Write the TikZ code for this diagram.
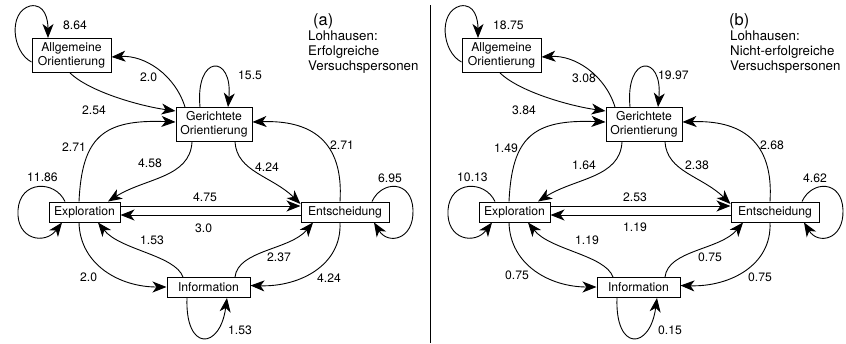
\documentclass[tikz,border=0pt]{standalone}
\usepackage{fontspec}
\setmainfont{TeX Gyre Heros}
\usetikzlibrary{arrows.meta}
\begin{document}
\begin{tikzpicture}[x=1pt,y=-1pt,
  every node/.style={font=\fontsize{12.2}{14}\selectfont, inner sep=0pt},
  stbox/.style={draw, line width=1pt, align=center, fill=white},
  twobox/.style={stbox, minimum height=34pt},
  onebox/.style={stbox, minimum height=20pt},
  conn/.style={line width=0.9pt, -{Stealth[length=14pt,width=11pt,inset=4pt]}},
  wt/.style={anchor=west},
  capt/.style={anchor=north west, align=left, font=\fontsize{13.3}{15}\selectfont},
  paneltag/.style={anchor=base west, font=\fontsize{16.4}{18}\selectfont}
]
\useasboundingbox (0,0) rectangle (846,343);

% separating rule between the two panels
\draw[line width=0.9pt] (430,5) -- (430,343);

%================ panel (a) ================
\node[paneltag] (aTag) at (313,25) {(a)};
\node[capt] (aCap) at (308,31) {Lohhausen:\\Erfolgreiche\\Versuchspersonen};

\node[twobox, minimum width=79pt] (aAll) at (71.5,55.5) {Allgemeine\\Orientierung};
\node[twobox, minimum width=76pt] (aGer) at (214,124.5) {Gerichtete\\Orientierung};
\node[onebox, minimum width=71pt] (aExp) at (84.5,212) {Exploration};
\node[onebox, minimum width=88pt] (aEnt) at (345,212) {Entscheidung};
\node[onebox, minimum width=83pt] (aInf) at (208.5,287.5) {Information};

% self-loops
\draw[conn] ([yshift=-6.5pt]aAll.west) .. controls (12,52) and (8,12) .. (30,6)
  .. controls (45,3) and (48,20) .. ([xshift=-23.5pt]aAll.north);
\draw[conn] ([xshift=-14pt]aGer.north) .. controls (195,54) and (233,54) .. ([xshift=14pt]aGer.north);
\draw[conn] ([xshift=-19.5pt]aExp.north) .. controls (55,180) and (20,180) .. (18,210)
  .. controls (16,240) and (45,245) .. ([xshift=-22.5pt]aExp.south);
\draw[conn] ([xshift=27pt]aEnt.north) .. controls (382,180) and (412,180) .. (413,210)
  .. controls (414,240) and (388,245) .. ([xshift=29pt]aEnt.south);
\draw[conn] ([xshift=-21.5pt]aInf.south) .. controls (185,352) and (220,350) .. ([xshift=18.5pt]aInf.south);

% transitions
\draw[conn] ([xshift=-29pt]aGer.north) .. controls (175,75) and (145,55) .. ([yshift=-1.5pt]aAll.east);
\draw[conn] ([xshift=-1.5pt]aAll.south) .. controls (90,92) and (140,106) .. ([yshift=13.5pt]aGer.west);
\draw[conn] ([xshift=-5.5pt]aExp.north) .. controls (82,138) and (102,119) .. ([yshift=2.5pt]aGer.west);
\draw[conn] ([xshift=-22pt]aGer.south) .. controls (190,178) and (145,178) .. ([xshift=23.5pt]aExp.north);
\draw[conn] ([xshift=21pt]aGer.south) .. controls (237,172) and (272,176) .. ([yshift=8pt]aEnt.west);
\draw[conn] ([xshift=-5pt]aEnt.north) .. controls (344,140) and (310,120) .. ([yshift=2.5pt]aGer.east);
\draw[conn] ([yshift=6pt]aExp.east) -- ([yshift=6pt]aEnt.west);
\draw[conn] ([yshift=-3pt]aEnt.west) -- ([yshift=-3pt]aExp.east);
\draw[conn] ([xshift=-25.5pt]aInf.north) .. controls (175,255) and (120,250) .. ([xshift=13.5pt]aExp.south);
\draw[conn] ([xshift=-5.5pt]aExp.south) .. controls (80,265) and (120,287) .. ([yshift=0.5pt]aInf.west);
\draw[conn] ([xshift=26.5pt]aInf.north) .. controls (238,250) and (290,250) .. ([xshift=-32pt]aEnt.south);
\draw[conn] ([xshift=-5pt]aEnt.south) .. controls (342,265) and (300,287) .. ([yshift=2pt]aInf.east);

% weights
\node[wt] (aw1) at (63,25) {8.64};
\node[wt] (aw2) at (140,77) {2.0};
\node[wt] (aw3) at (82,110) {2.54};
\node[wt] (aw4) at (238,75) {15.5};
\node[wt] (aw5) at (62,147) {2.71};
\node[wt] (aw6) at (138,163) {4.58};
\node[wt] (aw7) at (255,167) {4.24};
\node[wt] (aw8) at (330,145) {2.71};
\node[wt] (aw9) at (27,177) {11.86};
\node[wt] (aw10) at (193,197) {4.75};
\node[wt] (aw11) at (195,228) {3.0};
\node[wt] (aw12) at (378,178) {6.95};
\node[wt] (aw13) at (140,240) {1.53};
\node[wt] (aw14) at (80,277) {2.0};
\node[wt] (aw15) at (267,257) {2.37};
\node[wt] (aw16) at (317,278) {4.24};
\node[wt] (aw17) at (228,330) {1.53};

%================ panel (b) ================
\begin{scope}[xshift=430pt]
\node[paneltag] (bTag) at (299,25) {(b)};
\node[capt] (bCap) at (300,31) {Lohhausen:\\Nicht-erfolgreiche\\Versuchspersonen};

\node[twobox, minimum width=79pt] (bAll) at (71.5,55.5) {Allgemeine\\Orientierung};
\node[twobox, minimum width=76pt] (bGer) at (214,124.5) {Gerichtete\\Orientierung};
\node[onebox, minimum width=71pt] (bExp) at (84.5,212) {Exploration};
\node[onebox, minimum width=88pt] (bEnt) at (345,212) {Entscheidung};
\node[onebox, minimum width=83pt] (bInf) at (208.5,287.5) {Information};

% self-loops
\draw[conn] ([yshift=-6.5pt]bAll.west) .. controls (12,52) and (8,12) .. (30,6)
  .. controls (45,3) and (48,20) .. ([xshift=-23.5pt]bAll.north);
\draw[conn] ([xshift=-14pt]bGer.north) .. controls (195,54) and (233,54) .. ([xshift=14pt]bGer.north);
\draw[conn] ([xshift=-19.5pt]bExp.north) .. controls (55,180) and (20,180) .. (18,210)
  .. controls (16,240) and (45,245) .. ([xshift=-22.5pt]bExp.south);
\draw[conn] ([xshift=27pt]bEnt.north) .. controls (382,180) and (412,180) .. (413,210)
  .. controls (414,240) and (388,245) .. ([xshift=29pt]bEnt.south);
\draw[conn] ([xshift=-21.5pt]bInf.south) .. controls (185,352) and (220,350) .. ([xshift=18.5pt]bInf.south);

% transitions
\draw[conn] ([xshift=-29pt]bGer.north) .. controls (175,75) and (145,55) .. ([yshift=-1.5pt]bAll.east);
\draw[conn] ([xshift=-1.5pt]bAll.south) .. controls (90,92) and (140,106) .. ([yshift=13.5pt]bGer.west);
\draw[conn] ([xshift=-5.5pt]bExp.north) .. controls (82,138) and (102,119) .. ([yshift=2.5pt]bGer.west);
\draw[conn] ([xshift=-22pt]bGer.south) .. controls (190,178) and (145,178) .. ([xshift=23.5pt]bExp.north);
\draw[conn] ([xshift=21pt]bGer.south) .. controls (237,172) and (272,176) .. ([yshift=8pt]bEnt.west);
\draw[conn] ([xshift=-5pt]bEnt.north) .. controls (344,140) and (310,120) .. ([yshift=2.5pt]bGer.east);
\draw[conn] ([yshift=6pt]bExp.east) -- ([yshift=6pt]bEnt.west);
\draw[conn] ([yshift=-3pt]bEnt.west) -- ([yshift=-3pt]bExp.east);
\draw[conn] ([xshift=-25.5pt]bInf.north) .. controls (175,255) and (120,250) .. ([xshift=13.5pt]bExp.south);
\draw[conn] ([xshift=-5.5pt]bExp.south) .. controls (80,265) and (120,287) .. ([yshift=0.5pt]bInf.west);
\draw[conn] ([xshift=26.5pt]bInf.north) .. controls (238,250) and (290,250) .. ([xshift=-32pt]bEnt.south);
\draw[conn] ([xshift=-5pt]bEnt.south) .. controls (342,265) and (300,287) .. ([yshift=2pt]bInf.east);

% weights
\node[wt] (bw1) at (63,25) {18.75};
\node[wt] (bw2) at (142,78) {3.08};
\node[wt] (bw3) at (82,110) {3.84};
\node[wt] (bw4) at (228,75) {19.97};
\node[wt] (bw5) at (64,148) {1.49};
\node[wt] (bw6) at (142,165) {1.64};
\node[wt] (bw7) at (255,165) {2.38};
\node[wt] (bw8) at (330,145) {2.68};
\node[wt] (bw9) at (27,177) {10.13};
\node[wt] (bw10) at (193,197) {2.53};
\node[wt] (bw11) at (193,227) {1.19};
\node[wt] (bw12) at (373,178) {4.62};
\node[wt] (bw13) at (145,240) {1.19};
\node[wt] (bw14) at (75,275) {0.75};
\node[wt] (bw15) at (268,257) {0.75};
\node[wt] (bw16) at (318,277) {0.75};
\node[wt] (bw17) at (228,330) {0.15};
\end{scope}
\end{tikzpicture}
\end{document}
